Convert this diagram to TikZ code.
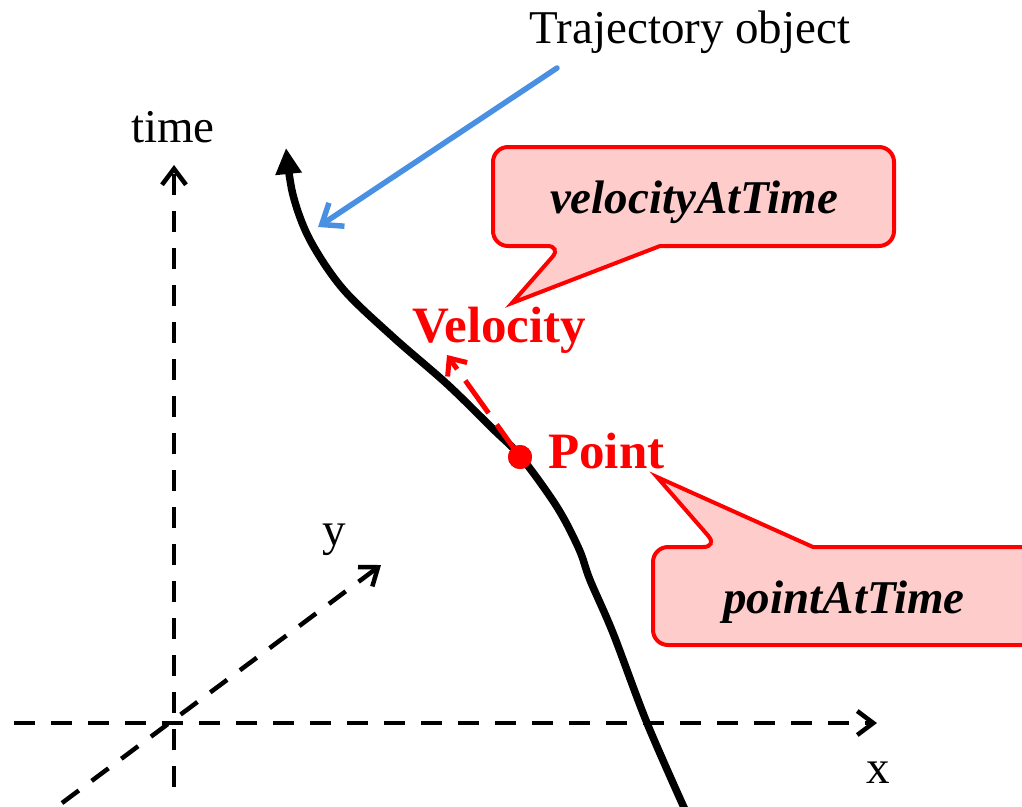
\documentclass[tikz,border=0pt]{standalone}
\usepackage{fontspec}
\setmainfont{Liberation Serif}
\usetikzlibrary{arrows.meta}
\definecolor{pinkfill}{RGB}{255,204,204}
\definecolor{blueline}{RGB}{74,144,226}
\begin{document}
\begin{tikzpicture}[x=1pt,y=-1pt,
  lbl/.style={font=\fontsize{47}{56}\selectfont, inner sep=0pt, anchor=base},
  redlbl/.style={font=\bfseries\fontsize{51}{60}\selectfont, text=red, inner sep=0pt, anchor=base west},
  calltext/.style={font=\bfseries\itshape\fontsize{47}{56}\selectfont, inner sep=0pt, anchor=base},
  axisline/.style={line width=4.5pt, dash pattern=on 21pt off 16pt, -{Straight Barb[length=16pt,width=24pt]}},
  callout/.style={draw=red, fill=pinkfill, line width=4pt, line join=miter},
  velarrow/.style={draw=red, line width=5pt, dash pattern=on 40pt off 14pt, -{Straight Barb[length=14pt,width=24pt]}},
  trajline/.style={line width=7.5pt, -{Triangle[length=26pt,width=25pt]}},
  bluearrow/.style={draw=blueline, line width=5.5pt, line cap=round, -{Straight Barb[length=18pt,width=28pt]}}
]
\useasboundingbox (0,0) rectangle (1022,806);

% axes
\coordinate (o) at (174,723);
\coordinate (tbot) at (174,787);
\coordinate (ttop) at (174,165);
\coordinate (xleft) at (14,723);
\coordinate (xtip) at (877,723);
\coordinate (yleft) at (62,803);
\coordinate (ytip) at (381,565);
\draw[axisline] (tbot) -- (ttop);
\draw[axisline] (xleft) -- (xtip);
\draw[axisline] (yleft) -- (ytip);

\node[lbl] (timelbl) at (173,142) {time};
\node[lbl] (xlbl) at (878,783) {x};
\node[lbl] (ylbl) at (334,545) {y};

% trajectory
\draw[trajline] plot[smooth, tension=0.55] coordinates {(686,812) (647,723) (613,633) (590,580) (579,549) (557,507) (521,457) (493,429) (447,384) (393,337) (343,289) (310,240) (293,195) (286,148)};

% callouts
\path[callout] (700,147) [rounded corners=15pt] -- (493,147) -- (493,246) -- (562,246) [sharp corners] -- (512,303) -- (660,246) [rounded corners=15pt] -- (894,246) -- (894,147) -- cycle;
\node[calltext] (vat) at (694,213) {velocityAtTime};

\path[callout] (900,645) [rounded corners=15pt] -- (653,645) -- (653,547) -- (718,547) [sharp corners] -- (657,477) -- (813,547) [rounded corners=15pt] -- (1040,547) -- (1040,645) -- cycle;
\node[calltext] (pat) at (844,613) {pointAtTime};

% velocity and point
\coordinate (vtip) at (447,355);
\node[circle, fill=red, minimum size=24pt, inner sep=0pt] (pt) at (520,457) {};
\draw[velarrow] (pt.center) -- (vtip);
\node[circle, fill=red, minimum size=24pt, inner sep=0pt] at (pt.center) {};
\node[redlbl] (vel) at (412,342) {Velocity};
\node[redlbl] (ptlbl) at (548,468) {Point};

% trajectory object label
\node[lbl] (traj) at (690,43) {Trajectory object};
\coordinate (bstart) at (557,68);
\coordinate (bend) at (318,227);
\draw[bluearrow] (bstart) -- (bend);
\end{tikzpicture}
\end{document}
